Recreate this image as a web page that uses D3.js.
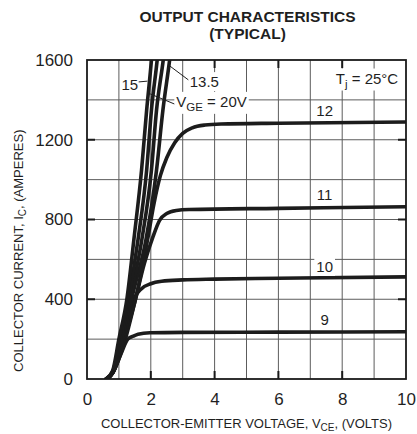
<!DOCTYPE html>
<html><head><meta charset="utf-8">
<script src="https://cdn.jsdelivr.net/npm/d3@7"></script>
<style>
body{margin:0;background:#fff}
text{font-family:"Liberation Sans",Arial,Helvetica,sans-serif;fill:#1f1f1f}
</style>
</head><body>
<svg id="chart" width="417" height="434"></svg>
<script>
// ---------------- data ----------------
const xTicks = [0, 2, 4, 6, 8, 10];
const yTicks = [0, 400, 800, 1200, 1600];
const xGridVals = [1, 2, 3, 4, 5, 6, 7, 8, 9];
const yGridVals = [200, 400, 600, 800, 1000, 1200, 1400];

// V_CE (volts), I_C (amperes)
const vge9   = [[0.6,0],[0.8,30],[1.05,120],[1.28,200],[1.45,215],[1.6,225],[1.97,232],[3,234],[6,235],[10,237]];
const vge10  = [[0.6,0],[0.8,30],[1.2,220],[1.47,400],[1.7,452],[2.0,478],[2.34,490],[3,497],[4,501],[6,505],[10,512]];
const vge11  = [[0.6,0],[0.8,30],[1.22,210],[1.52,400],[1.8,580],[2.07,714],[2.28,797],[2.5,830],[2.8,845],[3.2,850],[6,856],[10,864]];
const vge12  = [[0.6,0],[0.8,30],[1.2,220],[1.55,420],[1.9,700],[2.1,880],[2.3,1020],[2.5,1110],[2.75,1185],[3.0,1232],[3.3,1260],[3.7,1274],[4.2,1279],[6,1283],[10,1289]];
const vge13p5= [[0.6,0],[0.8,28],[1.15,200],[1.4,400],[1.85,700],[2.18,1048],[2.38,1349],[2.59,1600],[2.65,1680]];
const vge15  = [[0.6,0],[0.8,30],[1.1,200],[1.35,400],[1.72,700],[2.02,1048],[2.18,1349],[2.39,1600],[2.45,1680]];
const vge17  = [[0.6,0],[0.8,35],[1.05,200],[1.3,400],[1.6,700],[1.87,1048],[2.02,1349],[2.2,1600],[2.25,1680]];
const vge20  = [[0.6,0],[0.8,40],[1.0,200],[1.25,400],[1.47,700],[1.71,1048],[1.87,1349],[2.02,1600],[2.06,1680]];

const seriesList = [vge9, vge10, vge11, vge12, vge13p5, vge15, vge17, vge20];
const flatLabels = ["9", "10", "11", "12"];
const flatLabelPos = [[7.45,271],[7.45,537],[7.45,898],[7.45,1319]];

// ---------------- layout ----------------
const svg = d3.select("#chart");
const L = 87, R = 406, T = 60, B = 379;
const x = d3.scaleLinear().domain([0, 10]).range([L, R]);
const y = d3.scaleLinear().domain([0, 1600]).range([B, T]);

// title
svg.append("text").attr("x", 247.5).attr("y", 22).attr("text-anchor", "middle")
  .attr("font-size", 15.5).attr("font-weight", "bold").text("OUTPUT CHARACTERISTICS");
svg.append("text").attr("x", 247.5).attr("y", 39).attr("text-anchor", "middle")
  .attr("font-size", 15.5).attr("font-weight", "bold").text("(TYPICAL)");

// grid
const grid = svg.append("g").attr("stroke", "#5c5c5c").attr("stroke-width", 1);
grid.selectAll(".gx").data(xGridVals).join("line")
  .attr("x1", d => x(d)).attr("x2", d => x(d)).attr("y1", T).attr("y2", B);
grid.selectAll(".gy").data(yGridVals).join("line")
  .attr("y1", d => y(d)).attr("y2", d => y(d)).attr("x1", L).attr("x2", R);

// clip
svg.append("clipPath").attr("id", "clip").append("rect")
  .attr("x", L).attr("y", T).attr("width", R - L).attr("height", B - T);

const line = d3.line().x(d => x(d[0])).y(d => y(d[1])).curve(d3.curveMonotoneX);
svg.append("g").attr("clip-path", "url(#clip)")
  .selectAll("path").data(seriesList).join("path")
  .attr("d", line).attr("fill", "none").attr("stroke", "#1c1c1c")
  .attr("stroke-width", 3.6).attr("stroke-linecap", "round");

// helper: V at a given current along a series
function vAt(s, I) {
  for (let i = 1; i < s.length; i++) {
    if (s[i][1] >= I) {
      const a = s[i-1], b = s[i];
      return a[0] + (b[0]-a[0]) * (I - a[1]) / (b[1]-a[1]);
    }
  }
  return s[s.length-1][0];
}

function boxed(sel, pad) {
  const bb = sel.node().getBBox();
  svg.insert("rect", () => sel.node())
    .attr("x", bb.x - pad).attr("y", bb.y - 1).attr("width", bb.width + 2*pad)
    .attr("height", bb.height + 2).attr("fill", "#fff");
}

// flat-curve labels
flatLabels.forEach((t, i) => {
  const tx = svg.append("text").attr("x", x(flatLabelPos[i][0])).attr("y", y(flatLabelPos[i][1]))
    .attr("text-anchor", "middle").attr("font-size", 15).text(t);
  boxed(tx, 2);
});

// leaders
const lead = svg.append("g").attr("stroke", "#1f1f1f").attr("stroke-width", 1);
lead.append("line").attr("x1", x(1.62)).attr("y1", y(1490)).attr("x2", x(vAt(vge20, 1494)) - 2).attr("y2", y(1494));
lead.append("line").attr("x1", x(vAt(vge20, 1430)) + 2).attr("y1", y(1430)).attr("x2", x(2.76)).attr("y2", y(1378));
lead.append("line").attr("x1", x(vAt(vge13p5, 1570)) + 1).attr("y1", y(1570)).attr("x2", x(3.18)).attr("y2", y(1500));

// steep-curve labels
svg.append("text").attr("x", x(1.08)).attr("y", y(1450)).attr("font-size", 15).text("15");
const t135 = svg.append("text").attr("x", x(3.22)).attr("y", y(1464)).attr("font-size", 15).text("13.5");
boxed(t135, 1);
const tv = svg.append("text").attr("x", x(2.8)).attr("y", y(1365)).attr("font-size", 15);
tv.append("tspan").text("V");
tv.append("tspan").attr("dy", 4).attr("font-size", 11.5).text("GE");
tv.append("tspan").attr("dy", -4).text(" = 20V");
boxed(tv, 2);
const tj = svg.append("text").attr("x", x(7.8)).attr("y", y(1482)).attr("font-size", 15);
tj.append("tspan").text("T");
tj.append("tspan").attr("dy", 4).attr("font-size", 11.5).text("j");
tj.append("tspan").attr("dy", -4).text(" = 25°C");
boxed(tj, 2);

// frame
svg.append("rect").attr("x", L).attr("y", T).attr("width", R - L).attr("height", B - T)
  .attr("fill", "none").attr("stroke", "#1a1a1a").attr("stroke-width", 1.8);

// inward major ticks
const tk = svg.append("g").attr("stroke", "#1a1a1a").attr("stroke-width", 2);
const innerX = xTicks.filter(d => d > 0 && d < 10);
const innerY = yTicks.filter(d => d > 0 && d < 1600);
tk.selectAll(".tb").data(innerX).join("line").attr("x1", d => x(d)).attr("x2", d => x(d)).attr("y1", B).attr("y2", B - 8);
tk.selectAll(".tt").data(innerX).join("line").attr("x1", d => x(d)).attr("x2", d => x(d)).attr("y1", T).attr("y2", T + 8);
tk.selectAll(".tl").data(innerY).join("line").attr("y1", d => y(d)).attr("y2", d => y(d)).attr("x1", L).attr("x2", L + 8);
tk.selectAll(".tr").data(innerY).join("line").attr("y1", d => y(d)).attr("y2", d => y(d)).attr("x1", R).attr("x2", R - 8);

// axes labels via d3 axes (no lines)
const xAxis = svg.append("g").attr("transform", `translate(0,${B})`)
  .call(d3.axisBottom(x).tickValues(xTicks).tickSize(0).tickPadding(14).tickFormat(d3.format("d")));
const yAxis = svg.append("g").attr("transform", `translate(${L},0)`)
  .call(d3.axisLeft(y).tickValues(yTicks).tickSize(0).tickPadding(14).tickFormat(d3.format("d")));
[xAxis, yAxis].forEach(a => {
  a.select(".domain").remove();
  a.selectAll("text").attr("font-size", 17).attr("font-family", '"Liberation Sans",Arial,sans-serif').attr("fill", "#1f1f1f");
});

// axis titles
const xt = svg.append("text").attr("x", 246.5).attr("y", 428).attr("text-anchor", "middle").attr("font-size", 13);
xt.append("tspan").text("COLLECTOR-EMITTER VOLTAGE, V");
xt.append("tspan").attr("dy", 3).attr("font-size", 10).text("CE");
xt.append("tspan").attr("dy", -3).text(", (VOLTS)");

const yt = svg.append("text").attr("transform", "translate(23,372) rotate(-90)")
  .attr("text-anchor", "start").attr("font-size", 13);
yt.append("tspan").text("COLLECTOR CURRENT, I");
yt.append("tspan").attr("dy", 3).attr("font-size", 10).text("C");
yt.append("tspan").attr("dy", -3).text(", (AMPERES)");
</script>
</body></html>
